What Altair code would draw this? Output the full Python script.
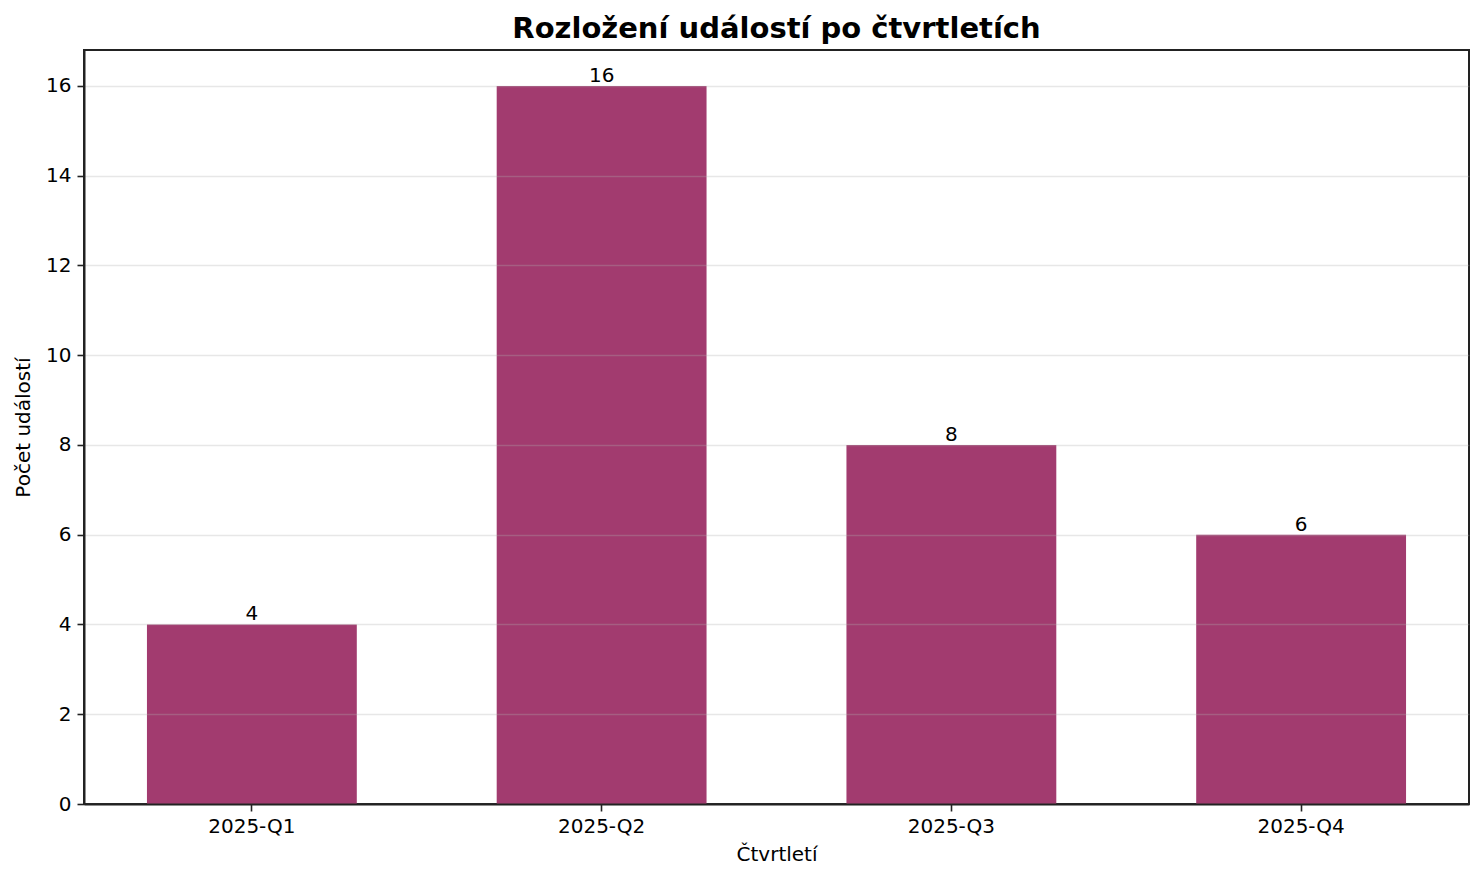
import altair as alt
import pandas as pd

quarters = ["2025-Q1", "2025-Q2", "2025-Q3", "2025-Q4"]
counts = [4, 16, 8, 6]
y_ticks = [0, 2, 4, 6, 8, 10, 12, 14, 16]

df = pd.DataFrame({"q": quarters, "n": counts})

FONT = "DejaVu Sans"
BAR = "#a23b6f"
DARK = "#222222"

base = alt.Chart(df)

x = alt.X(
    "q:N",
    sort=quarters,
    title="Čtvrtletí",
    scale=alt.Scale(paddingInner=0.4, paddingOuter=0.18),
    axis=alt.Axis(labelAngle=0, grid=False, zindex=1, labelPadding=5, titlePadding=8),
)
y = alt.Y(
    "n:Q",
    title="Počet událostí",
    scale=alt.Scale(domain=[0, 16.8], nice=False, zero=True),
    axis=alt.Axis(values=y_ticks, grid=True, gridColor="#b0b0b0", gridOpacity=0.3,
                  gridWidth=1.6, zindex=1, labelPadding=6, titlePadding=12),
)

bars = base.mark_bar(color=BAR).encode(x=x, y=y)
labels = base.mark_text(font=FONT, fontSize=20, baseline="alphabetic", dy=-4, color="black").encode(
    x=alt.X("q:N", sort=quarters), y="n:Q", text="n:Q"
)

chart = (
    alt.layer(bars, labels)
    .properties(
        width=1385,
        height=754,
        autosize=alt.AutoSizeParams(type="none"),
        padding={"left": 76, "top": 42, "right": 6, "bottom": 70},
        title=alt.TitleParams(
            "Rozložení událostí po čtvrtletích",
            font=FONT, fontSize=29, fontWeight="bold", color="black",
            anchor="middle", offset=6,
        ),
    )
    .configure_view(stroke=DARK, strokeWidth=2)
    .configure_axis(
        labelFont=FONT, titleFont=FONT, labelFontSize=20, titleFontSize=20,
        labelColor="black", titleColor="black", titleFontWeight="normal",
        domainColor=DARK, domainWidth=2, tickColor=DARK, tickWidth=1.6, tickSize=7,
    )
)

chart.save("out.html", embed_options={"renderer": "svg", "actions": False})
